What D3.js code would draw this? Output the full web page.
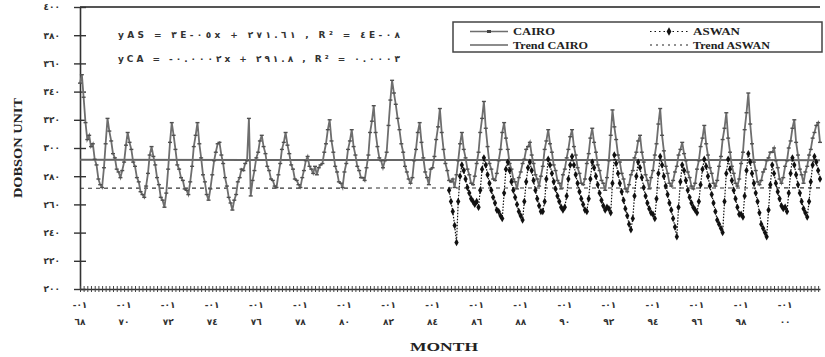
<!DOCTYPE html>
<html>
<head>
<meta charset="utf-8">
<script src="https://cdn.jsdelivr.net/npm/d3@7"></script>
<style>
body { margin: 0; background: #fff; }
</style>
</head>
<body>
<script>
// monthly total ozone (Dobson units)
var cairoStart = [1968, 0];   // Jan 1968
var cairo = [
  346,352,336,318,306,309,301,303,292,288,278,274, // 1968
  272,286,303,321,312,305,296,293,285,283,279,284, // 1969
  290,302,311,304,299,290,287,279,276,269,267,265, // 1970
  273,282,295,301,294,288,279,274,265,263,258,268, // 1971
  285,304,318,309,299,288,285,279,277,271,270,267, // 1972
  276,287,301,309,318,303,293,281,276,267,263,271, // 1973
  281,291,297,303,304,295,289,279,273,265,261,256, // 1974
  263,267,276,279,285,284,289,291,321,266,277,284, // 1975
  293,297,305,309,301,296,287,284,278,277,273,272, // 1976
  281,289,299,304,311,302,296,288,285,278,277,274, // 1977
  272,279,284,291,294,287,285,282,287,281,286,288, // 1978
  289,297,303,313,320,305,297,287,283,276,275,272, // 1979
  283,289,299,305,313,301,295,287,284,279,279,277, // 1980
  286,295,311,319,330,311,301,293,291,286,291,297, // 1981
  316,334,348,339,331,321,313,303,297,287,283,278, // 1982
  275,279,291,299,311,318,304,293,283,279,274,285, // 1983
  286,294,306,315,328,311,299,289,284,277,276,278, // 1984
  272,281,291,303,311,299,293,285,281,275,274,280, // 1985
  289,297,311,321,333,314,301,289,285,278,277,282, // 1986
  291,299,311,318,307,299,289,285,278,276,271,279, // 1987
  283,289,292,299,301,304,295,289,281,278,273,280, // 1988
  287,299,305,313,303,297,288,284,277,275,271,281, // 1989
  285,293,299,308,313,301,295,286,282,275,274,278, // 1990
  289,296,307,314,304,297,288,284,277,275,270,279, // 1991
  291,309,327,315,306,295,290,282,278,271,269,274, // 1992
  281,284,293,297,305,309,297,290,281,277,271,279, // 1993
  284,295,303,317,328,309,298,287,282,275,273,277, // 1994
  283,287,295,299,304,296,291,283,279,273,271,275, // 1995
  285,291,301,307,316,303,295,286,282,275,273,277, // 1996
  287,294,306,314,325,307,297,287,282,275,273,278, // 1997
  289,297,313,325,339,317,303,290,284,276,274,277, // 1998
  283,285,291,293,297,297,300,291,286,278,275,279, // 1999
  287,291,300,305,314,320,304,295,285,281,275,283, // 2000
  287,295,299,307,311,316,318,304                  // 2001
];

var aswanStart = [1984, 9];   // Oct 1984
var aswan = [
  270,262,255,                                     // 1984
  245,233,262,280,288,284,278,272,268,264,262,260, // 1985
  262,258,270,285,293,288,281,275,270,265,261,256, // 1986
  255,252,250,268,285,290,284,276,270,265,260,255, // 1987
  252,249,262,276,286,290,284,277,270,264,259,255, // 1988
  255,262,278,292,288,282,276,271,266,262,258,256, // 1989
  258,266,278,288,294,288,281,275,269,264,260,256, // 1990
  255,264,278,290,286,280,274,268,263,259,256,258, // 1991
  257,254,275,295,289,282,275,269,263,257,252,246, // 1992
  242,250,266,280,290,286,279,272,266,261,257,254, // 1993
  253,250,264,282,294,288,280,273,267,261,256,250, // 1994
  244,237,258,276,288,284,277,270,265,261,258,256, // 1995
  254,262,274,285,292,287,280,273,267,261,255,249, // 1996
  246,243,240,262,282,292,285,277,270,264,258,253, // 1997
  253,251,266,284,296,290,282,275,268,262,254,246, // 1998
  243,240,237,256,274,288,282,275,269,264,259,257, // 1999
  258,255,268,282,293,288,281,274,268,262,257,254, // 2000
  251,262,276,288,294,290,284,278                  // 2001
];

// linear trends, value at start and end of the axis
var trendCairo = [291.6, 291.4];
var trendAswan = [271.5, 271.7];

var yTicks = [200, 220, 240, 260, 280, 300, 320, 340, 360, 380, 400];
var yTickLabels = ["٢٠٠","٢٢٠","٢٤٠","٢٦٠","٢٨٠","٣٠٠","٣٢٠","٣٤٠","٣٦٠","٣٨٠","٤٠٠"];
var xTickYears = [1968,1970,1972,1974,1976,1978,1980,1982,1984,1986,1988,1990,1992,1994,1996,1998,2000];
var xTickTop = "-٠١";
var xTickBottom = ["٦٨","٧٠","٧٢","٧٤","٧٦","٧٨","٨٠","٨٢","٨٤","٨٦","٨٨","٩٠","٩٢","٩٤","٩٦","٩٨","٠٠"];
var equations = ["yAS =  ٣E-٠٥x + ٢٧١.٦١  , R² = ٤E-٠٨",
                 "yCA = -٠.٠٠٠٢x + ٢٩١.٨  , R² = ٠.٠٠٠٣"];

var W = 825, H = 357;
var plotLeft = 80, plotRight = 820, plotTop = 7, plotBottom = 289;
var serif = "'Liberation Serif', 'DejaVu Serif', serif";
var arab = "'DejaVu Sans', sans-serif";

var svg = d3.select("body").append("svg")
    .attr("width", W)
    .attr("height", H)
    .style("display", "block");

var startDate = new Date(cairoStart[0], cairoStart[1], 1);
var endDate = d3.timeMonth.offset(startDate, cairo.length - 1);

var x = d3.scaleTime().domain([startDate, endDate]).range([plotLeft, plotRight]);
var y = d3.scaleLinear().domain([200, 400]).range([plotBottom, plotTop]);

function monthOf(start, i) {
    return d3.timeMonth.offset(new Date(start[0], start[1], 1), i);
}

// top frame line
svg.append("line")
    .attr("x1", plotLeft).attr("x2", plotRight)
    .attr("y1", y(400)).attr("y2", y(400))
    .attr("stroke", "#555").attr("stroke-width", 2);

// y axis
var yAxis = svg.append("g")
    .attr("transform", "translate(" + plotLeft + ",0)")
    .call(d3.axisLeft(y).tickValues(yTicks).tickSize(0)
        .tickFormat(function(d, i) { return yTickLabels[i]; }));
yAxis.select(".domain").attr("stroke", "#333").attr("stroke-width", 1.6);
yAxis.selectAll(".tick line").attr("x1", -6).attr("x2", 6)
    .attr("stroke", "#333").attr("stroke-width", 1.4);
yAxis.selectAll(".tick text")
    .attr("x", -20)
    .attr("font-family", arab).attr("font-size", 9).attr("font-weight", "bold")
    .attr("letter-spacing", 2)
    .attr("fill", "#333");

// x axis, minor ticks every 2 months
var xAxis = svg.append("g")
    .attr("transform", "translate(0," + plotBottom + ")")
    .call(d3.axisBottom(x).ticks(d3.timeMonth.every(2)).tickSize(0).tickFormat(""));
xAxis.select(".domain").attr("stroke", "#333").attr("stroke-width", 1.6);
xAxis.selectAll(".tick line").attr("y1", -3).attr("y2", 3)
    .attr("stroke", "#444").attr("stroke-width", 1);

// x labels (two rows)
var xl = svg.append("g").selectAll("text").data(xTickYears).enter()
    .append("text")
    .attr("x", function(d) { return x(new Date(d, 0, 1)); })
    .attr("text-anchor", "middle")
    .attr("font-family", arab).attr("font-size", 9).attr("font-weight", "bold")
    .attr("fill", "#333");
xl.append("tspan").attr("x", function(d) { return x(new Date(d, 0, 1)); })
    .attr("y", 308).attr("letter-spacing", 1.5).text(xTickTop);
xl.append("tspan").attr("x", function(d) { return x(new Date(d, 0, 1)); })
    .attr("y", 325).attr("letter-spacing", 2)
    .text(function(d, i) { return xTickBottom[i]; });

// axis titles
svg.append("text")
    .text("MONTH")
    .attr("x", 444).attr("y", 351)
    .attr("text-anchor", "middle")
    .attr("font-family", serif).attr("font-size", 12).attr("font-weight", "bold")
    .attr("textLength", 68).attr("lengthAdjust", "spacingAndGlyphs")
    .attr("fill", "#222");

svg.append("text")
    .text("DOBSON UNIT")
    .attr("transform", "translate(22,148) rotate(-90)")
    .attr("text-anchor", "middle")
    .attr("font-family", serif).attr("font-size", 12).attr("font-weight", "bold")
    .attr("textLength", 100).attr("lengthAdjust", "spacingAndGlyphs")
    .attr("fill", "#222");

// trend lines, across the whole axis
svg.append("line")
    .attr("x1", x(startDate)).attr("x2", x(endDate))
    .attr("y1", y(trendCairo[0])).attr("y2", y(trendCairo[1]))
    .attr("stroke", "#666").attr("stroke-width", 2);
svg.append("line")
    .attr("x1", x(startDate)).attr("x2", x(endDate))
    .attr("y1", y(trendAswan[0])).attr("y2", y(trendAswan[1]))
    .attr("stroke", "#333").attr("stroke-width", 1.1)
    .attr("stroke-dasharray", "4,4");

// Cairo series
var lineCairo = d3.line()
    .x(function(d, i) { return x(monthOf(cairoStart, i)); })
    .y(function(d) { return y(d); });
svg.append("path")
    .datum(cairo)
    .attr("d", lineCairo)
    .attr("fill", "none")
    .attr("stroke", "#6e6e6e")
    .attr("stroke-width", 1.8);
svg.append("g").selectAll("line").data(cairo).enter()
    .append("line")
    .attr("x1", function(d, i) { return x(monthOf(cairoStart, i)) - 2; })
    .attr("x2", function(d, i) { return x(monthOf(cairoStart, i)) + 2; })
    .attr("y1", function(d) { return y(d); })
    .attr("y2", function(d) { return y(d); })
    .attr("stroke", "#505050").attr("stroke-width", 1.4);

// Aswan series
var lineAswan = d3.line()
    .x(function(d, i) { return x(monthOf(aswanStart, i)); })
    .y(function(d) { return y(d); });
svg.append("path")
    .datum(aswan)
    .attr("d", lineAswan)
    .attr("fill", "none")
    .attr("stroke", "#111")
    .attr("stroke-width", 1.2)
    .attr("stroke-dasharray", "1.5,1.5");
svg.append("g").selectAll("path").data(aswan).enter()
    .append("path")
    .attr("d", d3.symbol().type(d3.symbolDiamond).size(16))
    .attr("transform", function(d, i) {
        return "translate(" + x(monthOf(aswanStart, i)) + "," + y(d) + ")";
    })
    .attr("fill", "#111");

// regression equations
svg.append("g").selectAll("text").data(equations).enter()
    .append("text")
    .attr("x", 118)
    .attr("y", function(d, i) { return 38 + i * 24; })
    .attr("font-family", arab).attr("font-size", 9).attr("font-weight", "bold")
    .attr("textLength", 282).attr("lengthAdjust", "spacing")
    .attr("fill", "#333")
    .text(function(d) { return d; });

// legend
var legend = svg.append("g");
legend.append("rect")
    .attr("x", 453).attr("y", 22).attr("width", 369).attr("height", 30)
    .attr("fill", "#fff").attr("stroke", "#444").attr("stroke-width", 1.5);

var legendItems = [
    {name: "CAIRO", x: 470, y: 31.5, len: 42, stroke: "#6e6e6e", w: 1.6, dash: null, mark: "dash"},
    {name: "Trend CAIRO", x: 470, y: 45, len: 75, stroke: "#666", w: 1.6, dash: null, mark: null},
    {name: "ASWAN", x: 650, y: 31.5, len: 47, stroke: "#111", w: 1.2, dash: "1.5,3", mark: "diamond"},
    {name: "Trend ASWAN", x: 650, y: 45, len: 77, stroke: "#222", w: 1.2, dash: "2,4", mark: null}
];
legendItems.forEach(function(d) {
    legend.append("line")
        .attr("x1", d.x).attr("x2", d.x + 38)
        .attr("y1", d.y).attr("y2", d.y)
        .attr("stroke", d.stroke).attr("stroke-width", d.w)
        .attr("stroke-dasharray", d.dash);
    if (d.mark == "dash") {
        legend.append("line")
            .attr("x1", d.x + 17).attr("x2", d.x + 21)
            .attr("y1", d.y).attr("y2", d.y)
            .attr("stroke", "#444").attr("stroke-width", 3);
    }
    if (d.mark == "diamond") {
        legend.append("path")
            .attr("d", d3.symbol().type(d3.symbolDiamond).size(20))
            .attr("transform", "translate(" + (d.x + 19) + "," + d.y + ")")
            .attr("fill", "#111");
    }
    legend.append("text")
        .text(d.name)
        .attr("x", d.x + 43).attr("y", d.y + 3.5)
        .attr("font-family", serif).attr("font-size", 10).attr("font-weight", "bold")
        .attr("textLength", d.len).attr("lengthAdjust", "spacingAndGlyphs")
        .attr("fill", "#222");
});
</script>
</body>
</html>
